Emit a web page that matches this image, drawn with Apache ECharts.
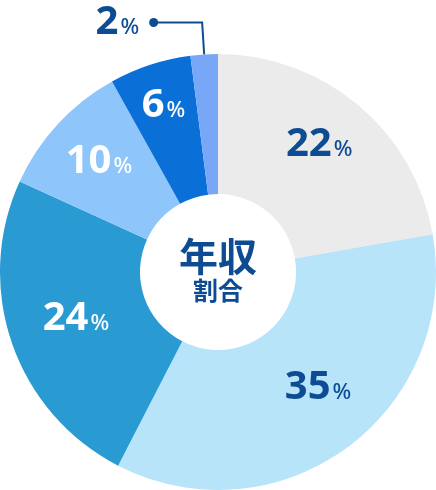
<!DOCTYPE html>
<html>
<head>
<meta charset="utf-8">
<script src="https://cdn.jsdelivr.net/npm/echarts@6/dist/echarts.min.js"></script>
<style>
  html, body { margin: 0; padding: 0; background: #fff; }
  #main { width: 436px; height: 490px; }
</style>
</head>
<body>
<div id="main"></div>
<script>
// 年収 割合
var categories = ['a', 'b', 'c', 'd', 'e', 'f'];
var values = [22, 35, 24, 10, 6, 2];
var colors = ['#ebebeb', '#b8e4fa', '#2a9ad3', '#8ec5fa', '#0a6fd6', '#79a7f8'];
var labelColors = ['#0d4c93', '#0d4c93', '#fff', '#fff', '#fff', '#0d4c93'];

var navy = '#0d4c93';
var fontFamily = '"Noto Sans", "Noto Sans CJK JP", sans-serif';

// small nudges so labels sit where the original has them
var nudges = [[-3, -3], [4, -15], [11, -6], [0, 0], [-4, -12], [0, 0]];

function richFor(c) {
  return {
    n: { fontSize: 40, fontWeight: 'bold', color: c, fontFamily: fontFamily },
    p: { fontSize: 22, fontWeight: 500, color: c, fontFamily: fontFamily, padding: [10, 0, 0, 2] },
    d: { width: 9, height: 9, backgroundColor: navy, borderRadius: 5 },
    g: { width: 10 }
  };
}

var sliceData = [];
var labelData = [];
for (var i = 0; i < values.length; i++) {
  sliceData.push({
    name: categories[i],
    value: values[i],
    itemStyle: { color: colors[i] }
  });
  var outside = i === values.length - 1;
  labelData.push({
    name: categories[i],
    value: values[i],
    label: outside ? {
      show: true,
      position: 'outside',
      formatter: '{n|{c}}{p|%}{g|}{d|}',
      rich: richFor(labelColors[i]),
      distanceToLabelLine: -4
    } : {
      show: true,
      position: 'inside',
      formatter: '{n|{c}}{p|%}',
      rich: richFor(labelColors[i])
    },
    labelLine: outside ? {
      show: true,
      length: 32,
      length2: 48,
      lineStyle: { color: navy, width: 2 }
    } : { show: false }
  });
}

var myChart = echarts.init(document.getElementById('main'));
myChart.setOption({
  animation: false,
  title: {
    text: '年収',
    subtext: '割合',
    left: 'center',
    top: 235,
    itemGap: 1,
    textStyle: { fontSize: 39, fontWeight: 'bold', color: navy, fontFamily: fontFamily },
    subtextStyle: { fontSize: 25, fontWeight: 'bold', color: navy, fontFamily: fontFamily }
  },
  series: [{
    type: 'pie',
    center: [218, 272],
    radius: [78, 218],
    startAngle: 90,
    clockwise: true,
    silent: true,
    label: { show: false },
    labelLine: { show: false },
    data: sliceData
  }, {
    type: 'pie',
    center: [218, 272],
    radius: [100, 218],
    startAngle: 90,
    clockwise: true,
    silent: true,
    itemStyle: { color: 'rgba(0,0,0,0)' },
    labelLayout: function (p) {
      var n = nudges[p.dataIndex];
      return { dx: n[0], dy: n[1] };
    },
    data: labelData
  }]
});
</script>
</body>
</html>
